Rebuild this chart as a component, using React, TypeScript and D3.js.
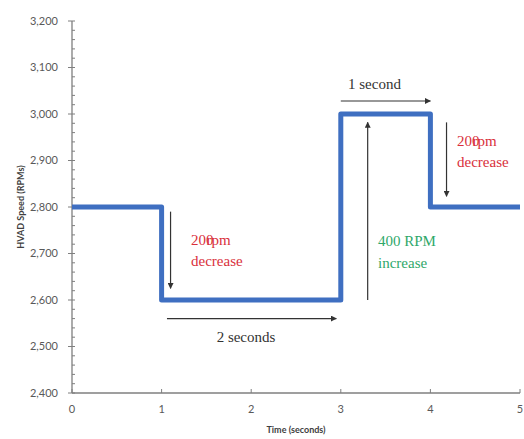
import React from "react";
import * as d3 from "d3";

const times = [0, 1, 3, 4, 5];
const speeds = [2800, 2600, 3000, 2800, 2800];
const xTicks = [0, 1, 2, 3, 4, 5];
const yTicks = [2400, 2500, 2600, 2700, 2800, 2900, 3000, 3100, 3200];
const yMinorTicks = d3.range(2400, 3201, 20);

// arrows: [x1, y1, x2, y2] in data units
const arrows = [
  { x1: 1.1, y1: 2790, x2: 1.1, y2: 2625 },
  { x1: 1.06, y1: 2560, x2: 2.95, y2: 2560 },
  { x1: 3.0, y1: 3028, x2: 4.0, y2: 3028 },
  { x1: 3.3, y1: 2600, x2: 3.3, y2: 2982 },
  { x1: 4.18, y1: 2982, x2: 4.18, y2: 2823 },
];

const W = 524;
const H = 439;
const margin = { left: 72, right: 4, top: 21, bottom: 46 };

export default function App() {
  const x = d3.scaleLinear().domain([0, 5]).range([margin.left, W - margin.right]);
  const y = d3.scaleLinear().domain([2400, 3200]).range([H - margin.bottom, margin.top]);
  const pts = times.map((t, i) => [t, speeds[i]] as [number, number]);
  const line = d3
    .line<[number, number]>()
    .x((d) => x(d[0]))
    .y((d) => y(d[1]))
    .curve(d3.curveStepAfter);
  const fmt = d3.format(",");
  const labelFont = "Lato, 'Open Sans', sans-serif";
  const serif = "'Liberation Serif', 'DejaVu Serif', serif";
  const red = "#d9303b";
  const green = "#2fa86a";
  const dark = "#333333";

  return (
    <div style={{ position: "absolute", left: 0, top: 0 }}>
      <svg width={W} height={H} style={{ display: "block", background: "#fff" }}>
        <defs>
          <marker id="ah" viewBox="0 0 10 10" refX="9" refY="5" markerWidth="5" markerHeight="5" orient="auto-start-reverse">
            <path d="M0,0 L10,5 L0,10 z" fill={dark} />
          </marker>
        </defs>
        {/* Y axis */}
        <line x1={x(0)} x2={x(0)} y1={y(2400)} y2={y(3200)} stroke="#7f7f7f" strokeWidth={1.3} />
        {yMinorTicks.map((v) => (
          <line key={"m" + v} x1={x(0) - (v % 100 === 0 ? 4 : 0)} x2={x(0) + 3} y1={y(v)} y2={y(v)} stroke="#7f7f7f" strokeWidth={1} />
        ))}
        {yTicks.map((v) => (
          <text key={"y" + v} x={x(0) - 14} y={y(v)} dy="0.35em" textAnchor="end" fontFamily={labelFont} fontSize={11} fill="#595959">
            {fmt(v)}
          </text>
        ))}
        {/* X axis */}
        <line x1={x(0)} x2={x(5)} y1={y(2400)} y2={y(2400)} stroke="#7f7f7f" strokeWidth={1.3} />
        {xTicks.map((v) => (
          <line key={"xt" + v} x1={x(v)} x2={x(v)} y1={y(2400)} y2={y(2400) - 4} stroke="#7f7f7f" strokeWidth={1} />
        ))}
        {xTicks.map((v) => (
          <text key={"x" + v} x={x(v)} y={y(2400) + 20} textAnchor="middle" fontFamily={labelFont} fontSize={11} fill="#595959">
            {v}
          </text>
        ))}
        <text x={(x(0) + x(5)) / 2} y={433} textAnchor="middle" fontFamily={labelFont} fontWeight="bold" fontSize={9} fill="#404040">
          Time (seconds)
        </text>
        <text transform={`translate(24, ${y(2800)}) rotate(-90)`} textAnchor="middle" fontFamily={labelFont} fontWeight="bold" fontSize={9} fill="#404040">
          HVAD Speed (RPMs)
        </text>
        {/* step line */}
        <path d={line(pts) || ""} fill="none" stroke="#3f6fc1" strokeWidth={5} strokeLinejoin="round" />
        {/* arrows */}
        {arrows.map((a, i) => (
          <line key={"a" + i} x1={x(a.x1)} y1={y(a.y1)} x2={x(a.x2)} y2={y(a.y2)} stroke={dark} strokeWidth={1.2} markerEnd="url(#ah)" />
        ))}
        {/* annotations */}
        <g fontFamily={serif} fontSize={15}>
          <text x={191} y={245} fill={red}>200<tspan dx={-7}>rpm</tspan></text>
          <text x={191} y={266} fill={red}>decrease</text>
          <text x={457} y={146} fill={red}>200<tspan dx={-7}>rpm</tspan></text>
          <text x={457} y={167} fill={red}>decrease</text>
          <text x={378} y={246} fill={green}>400 RPM</text>
          <text x={378} y={268} fill={green}>increase</text>
          <text x={246} y={342} textAnchor="middle" fill={dark}>2 seconds</text>
          <text x={348} y={89} fill={dark}>1 second</text>
        </g>
      </svg>
    </div>
  );
}
